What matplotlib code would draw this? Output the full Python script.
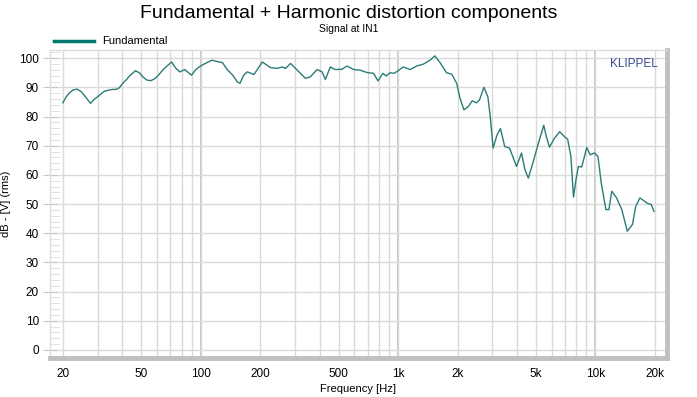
import matplotlib.pyplot as plt
import numpy as np
from matplotlib.ticker import FixedLocator, NullFormatter, MultipleLocator

plt.rcParams['font.family'] = ['Liberation Sans', 'DejaVu Sans']

# Fundamental response (Hz, dB)
freq = [20, 20.8, 21.5, 22.5, 23.6, 24.8, 26.0, 27.6, 28.6, 30, 32.5, 34.4,
        35.8, 37.2, 38.7, 40.2, 41.8, 43.5, 46.6, 48.8, 50.8, 53.2, 55.9,
        58.8, 61.6, 64, 66.6, 71.1, 74.8, 78.3, 83, 85.6, 89.7, 94.3, 98,
        104, 113.6, 119, 123.8, 128.7, 136, 145, 153, 158, 165, 172, 186,
        205, 225, 244, 258, 269, 285, 302, 339, 359, 388, 412,
        428, 453, 480, 519, 550, 595, 642, 694, 751, 790, 837, 870, 910, 953,
        1000, 1060, 1150, 1240, 1345, 1450, 1535, 1630, 1760, 1870, 1980,
        2060, 2155, 2265, 2375, 2490, 2585, 2720, 2850, 2930, 3030, 3170,
        3300, 3470, 3670, 3980, 4220, 4390, 4570, 4870, 5140, 5470, 5640,
        5850, 6200, 6590, 6970, 7230, 7510, 7740, 7970, 8200, 8520, 9040,
        9400, 9890, 10300, 10700, 11300, 11700, 12100, 12800, 13600, 14500,
        15400, 16000, 16800, 18400, 19200, 19800]
level = [84.7, 86.8, 88.0, 89.1, 89.4, 88.5, 86.8, 84.5, 85.7, 86.8, 88.7,
         89.1, 89.3, 89.3, 89.9, 91.4, 92.5, 93.9, 95.7, 95.0, 93.6, 92.5,
         92.3, 93.1, 94.5, 95.9, 97.0, 98.7, 96.5, 95.3, 96.1, 95.3, 94.2,
         96.1, 97.0, 98.0, 99.3, 99.0, 98.7, 98.5, 96.1, 94.2, 91.9, 91.4,
         94.2, 95.3, 94.4,
         98.7, 96.8, 96.5, 97.0, 96.5, 98.2,
         96.5, 93.1, 93.6, 96.1, 95.3, 92.7, 97.0, 96.1, 96.2, 97.3, 96.1,
         95.9, 95.1, 94.8, 92.2, 94.8, 93.9, 95.0, 94.8, 95.7, 97.0, 96.1,
         97.3, 98.0, 99.3, 100.8, 98.5, 95.0, 94.5, 91.4, 86.2, 82.3, 83.4,
         85.4, 84.7, 85.7, 90.0, 86.8, 80.0, 69.2, 73.7, 75.9, 69.7, 69.2,
         62.9, 67.5, 61.8, 58.9, 65.2, 70.9, 77.0, 73.1, 69.5, 72.6, 74.8,
         73.1, 72.2, 66.3, 52.4, 58.4, 62.9, 62.7, 69.4, 66.9, 67.5, 66.3,
         57.2, 48.1, 48.1, 54.4, 52.1, 48.1, 40.7, 43.0, 49.2, 52.1, 50.2,
         49.8, 47.5]

xtick_vals = [20, 50, 100, 200, 500, 1000, 2000, 5000, 10000, 20000]
xtick_labels = ['20', '50', '100', '200', '500', '1k', '2k', '5k', '10k', '20k']

fig = plt.figure(figsize=(6.97, 3.97), dpi=100)
ax = fig.add_axes([0.0717, 0.098, 0.885, 0.776])

ax.semilogx(freq, level, color='#2b7c77', lw=1.0, label='Fundamental')

ax.set_xlim(17.2, 23000)
ax.set_ylim(-2.8, 102.8)

# grid
minor = [m * d for d in (10, 100, 1000, 10000) for m in range(2, 10)]
ax.xaxis.set_major_locator(FixedLocator(xtick_vals))
ax.xaxis.set_minor_locator(FixedLocator(minor))
ax.xaxis.set_minor_formatter(NullFormatter())
ax.set_xticklabels(xtick_labels)
ax.grid(which='both', axis='x', color='#dadada', lw=1.0)
for d in (100, 1000, 10000):
    ax.axvline(d, color='#c4c4c4', lw=1.4, zorder=0.5)
ax.yaxis.set_major_locator(MultipleLocator(10))
ax.yaxis.set_minor_locator(MultipleLocator(2))
ax.grid(which='major', axis='y', color='#dadada', lw=1.0)
ax.set_axisbelow(True)

ax.tick_params(axis='x', which='both', length=0, pad=7, labelsize=8.5)
ax.tick_params(axis='y', which='major', direction='inout', length=10,
               color='#c8c8c8', labelsize=8.5, pad=3)
ax.tick_params(axis='y', which='minor', direction='in', length=7,
               color='#dcdcdc')

for s in ('left', 'top'):
    ax.spines[s].set_color('#dcdcdc')
    ax.spines[s].set_linewidth(1.0)
for s in ('right', 'bottom'):
    ax.spines[s].set_color('#c0c0c0')
    ax.spines[s].set_linewidth(3.5)

ax.set_xlabel('Frequency [Hz]', fontsize=8, labelpad=3)
ax.set_ylabel('dB - [V] (rms)', fontsize=8, labelpad=6)

fig.text(0.5, 0.988, 'Fundamental + Harmonic distortion components',
         ha='center', va='top', fontsize=14)
fig.text(0.5, 0.94, 'Signal at IN1', ha='center', va='top', fontsize=7.5)
ax.text(0.985, 0.955, 'KLIPPEL', transform=ax.transAxes, ha='right',
        va='center', fontsize=8.5, color='#3b4a8c')

leg = ax.legend(loc='lower left', bbox_to_anchor=(-0.005, 0.99), frameon=False,
                fontsize=8, handlelength=3.6, borderaxespad=0.2)
leg.get_lines()[0].set_linewidth(2.5)
leg.get_lines()[0].set_color('#00786f')

fig.savefig('out.png', dpi=100)
